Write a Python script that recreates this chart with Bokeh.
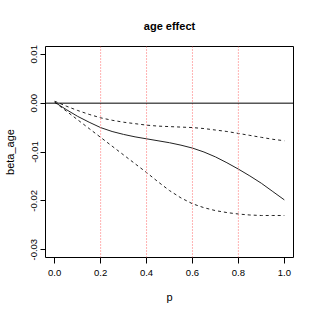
from bokeh.plotting import figure
from bokeh.models import Span, Range1d, FixedTicker
from bokeh.embed import file_html
from bokeh.resources import INLINE

p_vals = [0.0, 0.05, 0.1, 0.15, 0.2, 0.25, 0.3, 0.35, 0.4, 0.45, 0.5,
          0.55, 0.6, 0.65, 0.7, 0.75, 0.8, 0.85, 0.9, 0.95, 1.0]
beta_est = [0.0002, -0.0013, -0.0027, -0.0039, -0.0050, -0.0058, -0.0064, -0.0069,
            -0.0073, -0.0077, -0.0081, -0.0086, -0.0092, -0.0100, -0.0110, -0.0122,
            -0.0135, -0.0149, -0.0164, -0.0181, -0.0198]
beta_upper = [0.0004, -0.0006, -0.0015, -0.0023, -0.0030, -0.0035, -0.0039, -0.0042,
              -0.0045, -0.0047, -0.0048, -0.0049, -0.0050, -0.0052, -0.0055, -0.0058,
              -0.0062, -0.0066, -0.0070, -0.0074, -0.0077]
beta_lower = [0.0002, -0.0016, -0.0034, -0.0052, -0.0070, -0.0088, -0.0106, -0.0124,
              -0.0142, -0.0161, -0.0179, -0.0194, -0.0206, -0.0214, -0.0220, -0.0224,
              -0.0227, -0.0229, -0.0230, -0.0230, -0.0230]
breaks = [0.2, 0.4, 0.6, 0.8]
x_ticks = [0.0, 0.2, 0.4, 0.6, 0.8, 1.0]
x_tick_labels = ["0.0", "0.2", "0.4", "0.6", "0.8", "1.0"]
y_ticks = [-0.03, -0.02, -0.01, 0.0, 0.01]
y_tick_labels = ["-0.03", "-0.02", "-0.01", "0.00", "0.01"]

FONT = "Liberation Sans"

p = figure(width=308, height=308, output_backend="svg", toolbar_location=None,
           x_range=Range1d(-0.04, 1.04), y_range=Range1d(-0.0316, 0.0116),
           min_border_left=45, min_border_right=15, min_border_top=46, min_border_bottom=51,
           title="age effect")

p.title.align = "center"
p.title.text_font = FONT
p.title.text_font_size = "11px"
p.title.text_font_style = "bold"
p.title.text_color = "black"
p.title.standoff = 30

p.grid.visible = False
p.outline_line_color = "black"
p.outline_line_width = 1
p.background_fill_color = "white"
p.border_fill_color = "white"

for b in breaks:
    p.add_layout(Span(location=b, dimension="height", line_color="#ff6666",
                      line_width=1, line_dash="1 2"))
p.add_layout(Span(location=0, dimension="width", line_color="black", line_width=1))

p.line(p_vals, beta_est, line_color="#222222", line_width=1)
p.line(p_vals, beta_upper, line_color="#222222", line_width=1, line_dash="3 3")
p.line(p_vals, beta_lower, line_color="#222222", line_width=1, line_dash="3 3")

p.xaxis.ticker = FixedTicker(ticks=x_ticks)
p.xaxis.major_label_overrides = dict(zip(x_ticks, x_tick_labels))
p.yaxis.ticker = FixedTicker(ticks=y_ticks)
p.yaxis.major_label_overrides = dict(zip(y_ticks, y_tick_labels))
p.yaxis.major_label_orientation = "vertical"

p.xaxis.axis_label = "p"
p.yaxis.axis_label = "beta_age"

for ax in (p.xaxis, p.yaxis):
    ax.axis_line_color = None
    ax.major_tick_in = 0
    ax.minor_tick_line_color = None
    ax.major_tick_line_color = "black"
    ax.major_label_text_font = FONT
    ax.major_label_text_font_size = "9.5px"
    ax.major_label_text_color = "black"
    ax.axis_label_text_font = FONT
    ax.axis_label_text_font_size = "11px"
    ax.axis_label_text_font_style = "normal"
    ax.axis_label_text_color = "black"

p.xaxis.major_tick_out = 6
p.xaxis.major_label_standoff = 6
p.xaxis.axis_label_standoff = 12
p.yaxis.major_tick_out = 5
p.yaxis.major_label_standoff = 3
p.yaxis.axis_label_standoff = 13

open("out.html", "w").write(file_html(p, INLINE))
